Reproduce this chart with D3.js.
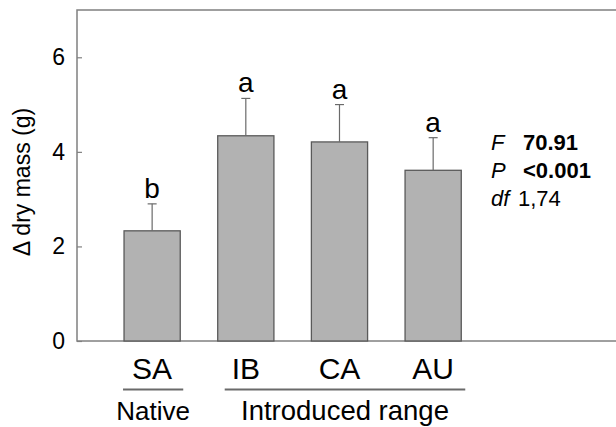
<!DOCTYPE html>
<html>
<head>
<meta charset="utf-8">
<script src="https://cdn.jsdelivr.net/npm/d3@7"></script>
<style>
  body { margin: 0; background: #fff; }
  svg { font-family: Arial, "Liberation Sans", sans-serif; }
</style>
</head>
<body>
<svg id="chart" width="616" height="427"></svg>
<script>
// data
const sites = ["SA", "IB", "CA", "AU"];
const means = [2.33, 4.34, 4.21, 3.61];
const errors = [0.57, 0.79, 0.79, 0.69];
const letters = ["b", "a", "a", "a"];
const yTicks = [0, 2, 4, 6];
const groups = [
    { name: "Native", from: "SA", to: "SA" },
    { name: "Introduced range", from: "IB", to: "AU" }
];
const stats = [
    { key: "F", value: "70.91", bold: true },
    { key: "P", value: "<0.001", bold: true },
    { key: "df", value: "1,74", bold: false }
];

const svg = d3.select("#chart");
const plotLeft = 77, plotTop = 10, plotBottom = 341;

const x = d3.scaleBand()
    .domain(sites)
    .range([105.3, 480])
    .paddingInner(0.4)
    .paddingOuter(0.2);

const y = d3.scaleLinear()
    .domain([0, 7])
    .range([plotBottom, plotTop]);

// frame (right side runs off the page)
svg.append("rect")
    .attr("x", plotLeft)
    .attr("y", plotTop)
    .attr("width", 700)
    .attr("height", plotBottom - plotTop)
    .attr("fill", "none")
    .attr("stroke", "#808080")
    .attr("stroke-width", 1.5);

// bars
svg.selectAll("rect.bar")
    .data(sites)
    .enter()
    .append("rect")
    .attr("class", "bar")
    .attr("x", d => x(d))
    .attr("y", (d, i) => y(means[i]))
    .attr("width", x.bandwidth())
    .attr("height", (d, i) => y(0) - y(means[i]))
    .attr("fill", "#b2b2b2")
    .attr("stroke", "#5a5a5a")
    .attr("stroke-width", 1.3);

// error bars + significance letters
const err = svg.append("g").attr("stroke", "#6a6a6a").attr("stroke-width", 1.2);
sites.forEach((s, i) => {
    const cx = x(s) + x.bandwidth() / 2;
    err.append("line")
        .attr("x1", cx).attr("x2", cx)
        .attr("y1", y(means[i])).attr("y2", y(means[i] + errors[i]));
    err.append("line")
        .attr("x1", cx - 4.5).attr("x2", cx + 4.5)
        .attr("y1", y(means[i] + errors[i])).attr("y2", y(means[i] + errors[i]));
    svg.append("text")
        .attr("x", cx)
        .attr("y", y(means[i] + errors[i]) - 6)
        .attr("text-anchor", "middle")
        .style("font-size", "28px")
        .text(letters[i]);
});

// y axis
const yAxis = svg.append("g")
    .attr("transform", `translate(${plotLeft},0)`)
    .call(d3.axisLeft(y).tickValues(yTicks).tickFormat(d3.format("d")).tickSize(-5).tickPadding(12));
yAxis.select(".domain").remove();
yAxis.selectAll(".tick line").attr("stroke", "#808080").attr("stroke-width", 1.2);
yAxis.selectAll(".tick text")
    .attr("fill", "#000")
    .style("font-size", "23px")
    .style("font-family", "Arial, 'Liberation Sans', sans-serif");

svg.append("text")
    .attr("transform", "rotate(-90)")
    .attr("x", -182)
    .attr("y", 30)
    .attr("text-anchor", "middle")
    .style("font-size", "23px")
    .text("\u0394 dry mass (g)");

// category labels
svg.selectAll("text.site")
    .data(sites)
    .enter()
    .append("text")
    .attr("class", "site")
    .attr("x", d => x(d) + x.bandwidth() / 2)
    .attr("y", 379)
    .attr("text-anchor", "middle")
    .style("font-size", "30px")
    .text(d => d);

// range groups with underline
groups.forEach(g => {
    const single = g.from === g.to;
    const x0 = x(g.from) + (single ? -1 : 7);
    const x1 = x(g.to) + x.bandwidth() + (single ? 3 : 4);
    svg.append("line")
        .attr("x1", x0)
        .attr("x2", x1)
        .attr("y1", 389.5).attr("y2", 389.5)
        .attr("stroke", "#6a6a6a")
        .attr("stroke-width", 2);
    svg.append("text")
        .attr("x", (x0 + x1) / 2)
        .attr("y", 420)
        .attr("text-anchor", "middle")
        .style("font-size", single ? "26px" : "27.5px")
        .text(g.name);
});

// test statistics
stats.forEach((s, i) => {
    const t = svg.append("text")
        .attr("x", 491)
        .attr("y", 150 + i * 28)
        .style("font-size", "22px");
    t.append("tspan").style("font-style", "italic").text(s.key);
    t.append("tspan")
        .attr("x", s.bold ? 523 : 518)
        .style("font-weight", s.bold ? "bold" : "normal")
        .text(s.value);
});
</script>
</body>
</html>
